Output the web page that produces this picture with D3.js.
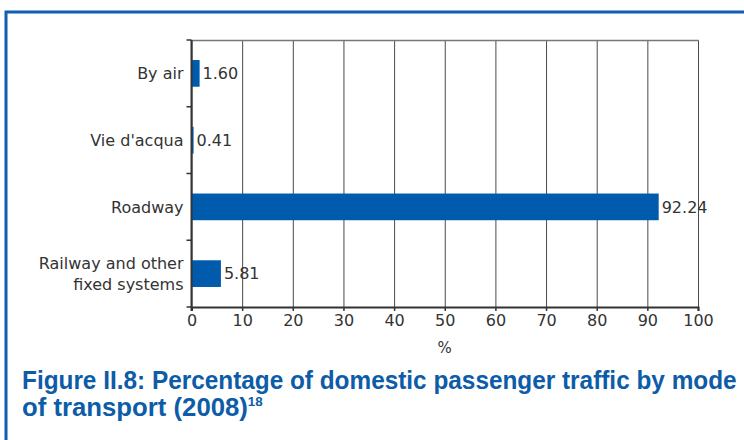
<!DOCTYPE html>
<html>
<head>
<meta charset="utf-8">
<script src="https://cdn.jsdelivr.net/npm/d3@7"></script>
<style>
  body { margin: 0; background: #fff; }
  svg { display: block; }
</style>
</head>
<body>
<svg id="chart"></svg>
<script>
// data
var categories = ["By air", "Vie d'acqua", "Roadway", "Railway and other|fixed systems"]
var values = [1.60, 0.41, 92.24, 5.81]
var xTicks = [0, 10, 20, 30, 40, 50, 60, 70, 80, 90, 100]

var dimensions = {
    width: 744,
    height: 440,
    margin: { top: 40, bottom: 133, right: 46, left: 191.5 }
}

var svg = d3.select("#chart")
    .attr("width", dimensions.width)
    .attr("height", dimensions.height)

// blue frame (top + left)
svg.append("path")
    .attr("d", "M6," + dimensions.height + " V12 H" + dimensions.width)
    .attr("fill", "none")
    .attr("stroke", "#0f5fae")
    .attr("stroke-width", 3)

var g = svg.append("g")

var xScale = d3.scaleLinear()
    .domain([0, 100])
    .range([dimensions.margin.left, dimensions.width - dimensions.margin.right])

var yScale = d3.scaleBand()
    .domain(categories)
    .range([dimensions.margin.top, dimensions.height - dimensions.margin.bottom])
    .paddingInner(0.6)
    .paddingOuter(0.3)

var bandTop = dimensions.margin.top
var bandBottom = dimensions.height - dimensions.margin.bottom
var step = (bandBottom - bandTop) / categories.length

// vertical grid lines
g.selectAll(".grid")
    .data(xTicks)
    .enter()
    .append("line")
    .attr("x1", d => xScale(d) + 0.5)
    .attr("x2", d => xScale(d) + 0.5)
    .attr("y1", bandTop)
    .attr("y2", bandBottom)
    .attr("stroke", "#4a4a4a")
    .attr("stroke-width", 1)

// top frame of plot
g.append("line")
    .attr("x1", xScale(0)).attr("x2", xScale(100) + 1)
    .attr("y1", bandTop + 0.5).attr("y2", bandTop + 0.5)
    .attr("stroke", "#777").attr("stroke-width", 1.5)

// bars
g.selectAll(".bar")
    .data(values)
    .enter()
    .append("rect")
    .attr("x", xScale(0))
    .attr("y", (d, i) => yScale(categories[i]))
    .attr("width", d => xScale(d) - xScale(0))
    .attr("height", yScale.bandwidth())
    .attr("fill", "#005bac")

// value labels
g.selectAll(".val")
    .data(values)
    .enter()
    .append("text")
    .attr("x", d => xScale(d) + 3)
    .attr("y", (d, i) => yScale(categories[i]) + yScale.bandwidth() / 2)
    .attr("dy", "0.36em")
    .attr("font-family", "DejaVu Sans")
    .attr("font-size", 16)
    .attr("fill", "#333")
    .text(d => d.toFixed(2))

// x axis
var xAxisgen = d3.axisBottom(xScale).tickValues(xTicks).tickSize(4).tickPadding(4)
var xAxis = g.append("g")
    .attr("transform", "translate(0," + bandBottom + ")")
    .call(xAxisgen)
xAxis.select(".domain").attr("stroke", "#333").attr("stroke-width", 2)
xAxis.selectAll(".tick line").attr("stroke", "#333").attr("stroke-width", 1.5)
xAxis.selectAll("text")
    .attr("font-family", "DejaVu Sans")
    .attr("font-size", 16)
    .attr("fill", "#333")

g.append("text")
    .attr("x", xScale(50))
    .attr("y", bandBottom + 46)
    .attr("text-anchor", "middle")
    .attr("font-family", "DejaVu Sans")
    .attr("font-size", 15)
    .attr("fill", "#333")
    .text("%")

// y axis: line + ticks at band boundaries
g.append("line")
    .attr("x1", xScale(0)).attr("x2", xScale(0))
    .attr("y1", bandTop).attr("y2", bandBottom + 4)
    .attr("stroke", "#333").attr("stroke-width", 2)

g.selectAll(".ytick")
    .data(d3.range(categories.length + 1))
    .enter()
    .append("line")
    .attr("x1", xScale(0) - 5)
    .attr("x2", xScale(0))
    .attr("y1", i => bandTop + i * step)
    .attr("y2", i => bandTop + i * step)
    .attr("stroke", "#333")
    .attr("stroke-width", 1.5)

var ylab = g.selectAll(".ylab")
    .data(categories)
    .enter()
    .append("text")
    .attr("text-anchor", "end")
    .attr("font-family", "DejaVu Sans")
    .attr("font-size", 16)
    .attr("fill", "#333")
    .attr("transform", d => "translate(" + (xScale(0) - 8) + "," + (yScale(d) + yScale.bandwidth() / 2) + ")")

ylab.each(function (d) {
    var lines = d.split("|")
    var el = d3.select(this)
    lines.forEach(function (t, k) {
        el.append("tspan")
            .attr("x", 0)
            .attr("y", (k - (lines.length - 1) / 2) * 21)
            .attr("dy", "0.36em")
            .text(t)
    })
})

// caption (bold, squeezed to look condensed)
function captionLine(txt, sup, baseline, targetWidth) {
    var lg = svg.append("g")
    var t = lg.append("text")
        .attr("font-family", "Liberation Sans")
        .attr("font-weight", "bold")
        .attr("font-size", 25)
        .attr("fill", "#0d5ca8")
        .attr("y", baseline)
    var main = t.append("tspan").text(txt)
    if (sup) t.append("tspan").attr("font-size", 13).attr("dy", -10).text(sup)
    var w = main.node().getComputedTextLength()
    lg.attr("transform", "translate(22,0) scale(" + (targetWidth / w) + ",1)")
}
captionLine("Figure II.8: Percentage of domestic passenger traffic by mode", null, 389, 715)
captionLine("of transport (2008)", "18", 416, 226)
</script>
</body>
</html>
